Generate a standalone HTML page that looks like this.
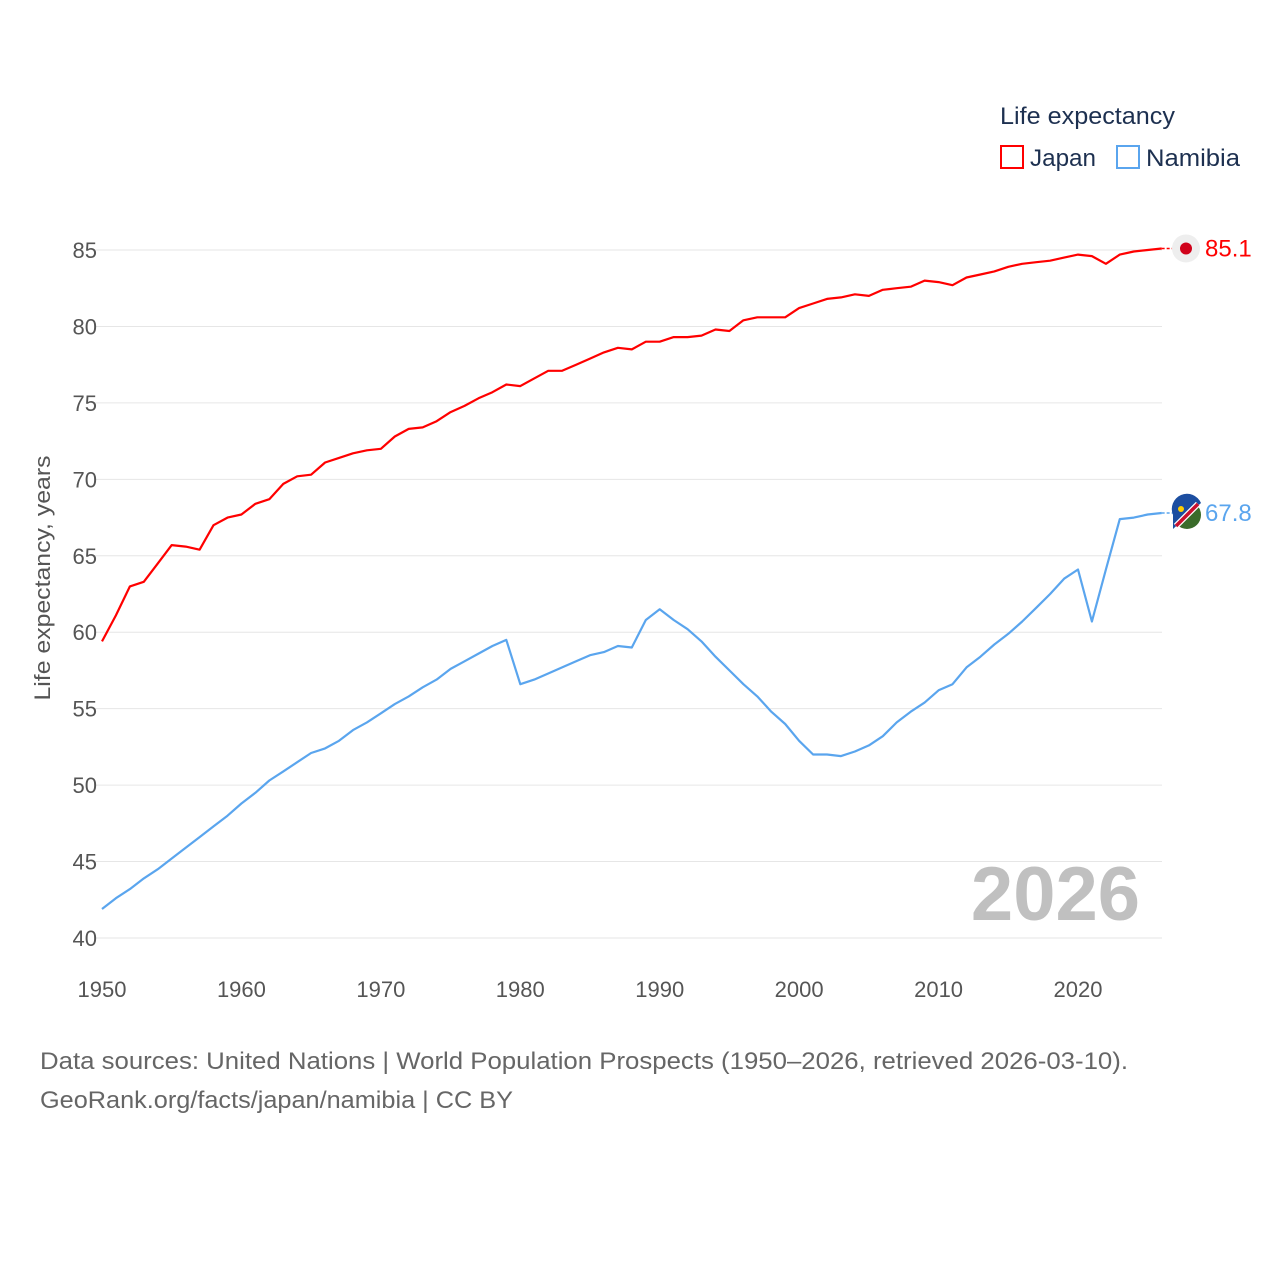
<!DOCTYPE html>
<html><head><meta charset="utf-8"><style>
body{margin:0;background:#fff;font-family:"Liberation Sans",sans-serif}
svg text{font-family:"Liberation Sans",sans-serif}
</style></head><body>
<svg id="chart" width="1280" height="1280">
<text x="1000" y="124" font-size="24" fill="#1d3050" textLength="175" lengthAdjust="spacingAndGlyphs">Life expectancy</text>
<g><rect x="1001" y="146" width="22" height="22" fill="none" stroke="#ff0000" stroke-width="2"/><text x="1030" y="166" font-size="24" fill="#1d3050" textLength="66" lengthAdjust="spacingAndGlyphs">Japan</text></g>
<g><rect x="1117" y="146" width="22" height="22" fill="none" stroke="#5aa5ee" stroke-width="2"/><text x="1146" y="166" font-size="24" fill="#1d3050" textLength="94" lengthAdjust="spacingAndGlyphs">Namibia</text></g>
<text transform="translate(50,578) rotate(-90)" text-anchor="middle" font-size="22" fill="#555" textLength="245" lengthAdjust="spacingAndGlyphs">Life expectancy, years</text>
<g id="grid"></g><g id="xt"></g>
<text x="1140" y="920" text-anchor="end" font-size="76" font-weight="bold" fill="#c0c0c0">2026</text>
<g id="lines"></g>
<text x="40" y="1069" font-size="24" fill="#666" textLength="1088" lengthAdjust="spacingAndGlyphs">Data sources: United Nations | World Population Prospects (1950–2026, retrieved 2026-03-10).</text>
<text x="40" y="1108" font-size="24" fill="#666" textLength="473" lengthAdjust="spacingAndGlyphs">GeoRank.org/facts/japan/namibia | CC BY</text>
</svg>
<script>
const years=[];for(let y=1950;y<=2026;y++)years.push(y);
const japan=[59.4,61.1,63.0,63.3,64.5,65.7,65.6,65.4,67.0,67.5,67.7,68.4,68.7,69.7,70.2,70.3,71.1,71.4,71.7,71.9,72.0,72.8,73.3,73.4,73.8,74.4,74.8,75.3,75.7,76.2,76.1,76.6,77.1,77.1,77.5,77.9,78.3,78.6,78.5,79.0,79.0,79.3,79.3,79.4,79.8,79.7,80.4,80.6,80.6,80.6,81.2,81.5,81.8,81.9,82.1,82.0,82.4,82.5,82.6,83.0,82.9,82.7,83.2,83.4,83.6,83.9,84.1,84.2,84.3,84.5,84.7,84.6,84.1,84.7,84.9,85.0,85.1];
const namibia=[41.9,42.6,43.2,43.9,44.5,45.2,45.9,46.6,47.3,48.0,48.8,49.5,50.3,50.9,51.5,52.1,52.4,52.9,53.6,54.1,54.7,55.3,55.8,56.4,56.9,57.6,58.1,58.6,59.1,59.5,56.6,56.9,57.3,57.7,58.1,58.5,58.7,59.1,59.0,60.8,61.5,60.8,60.2,59.4,58.4,57.5,56.6,55.8,54.8,54.0,52.9,52.0,52.0,51.9,52.2,52.6,53.2,54.1,54.8,55.4,56.2,56.6,57.7,58.4,59.2,59.9,60.7,61.6,62.5,63.5,64.1,60.7,64.1,67.4,67.5,67.7,67.8];
const yTicks=[40,45,50,55,60,65,70,75,80,85];
const xTicks=[1950,1960,1970,1980,1990,2000,2010,2020];
const NS="http://www.w3.org/2000/svg";
const X=y=>102+(y-1950)*976/70;
const Y=v=>938-(v-40)*688/45;
function mk(t,a,p){const e=document.createElementNS(NS,t);for(const k in a)e.setAttribute(k,a[k]);p.appendChild(e);return e;}
const grid=document.getElementById('grid');
yTicks.forEach(v=>{
 const l=mk('line',{x1:95,x2:1162,y1:Y(v),y2:Y(v),stroke:'#e6e6e6','stroke-width':1},grid);
 
 
 const t=mk('text',{x:97,y:Y(v)+8,'text-anchor':'end','font-size':22,fill:'#555'},grid);
 t.textContent=v;
 
 
});
const xt=document.getElementById('xt');
xTicks.forEach(v=>{
 const t=mk('text',{x:X(v),y:997,'text-anchor':'middle','font-size':22,fill:'#555'},xt);
 t.textContent=v;
 
 
});
const lines=document.getElementById('lines');
function series(data,color,name,flag){
 const d=data.map((v,i)=>(i?'L':'M')+X(years[i]).toFixed(1)+','+Y(v).toFixed(1)).join('');
 const p=mk('path',{d:d,fill:'none',stroke:color,'stroke-width':2.2,'stroke-linejoin':'round'},lines);
 
 
 const last=data[data.length-1],ly=Y(last),lx=X(years[years.length-1]);
 mk('line',{x1:lx,x2:1174,y1:ly,y2:ly,stroke:color,'stroke-width':1.5,'stroke-dasharray':'3,2'},lines);
 const g=mk('g',{},lines);
 
 
 if(flag==='jp'){mk('circle',{cx:1186,cy:ly,r:14,fill:'#eee'},g);mk('circle',{cx:1186,cy:ly,r:6,fill:'#d0021b'},g);}
 else{mk('circle',{cx:1187,cy:ly+2,r:14,fill:'#3a6b2a'},g);mk('path',{d:`M${1173},${ly+2}A14,14 0 0 1 ${1201},${ly-12+2} L1173,${ly+16}Z`,fill:'#1c4ea0'},g);mk('line',{x1:1176,y1:ly+13,x2:1198,y2:ly-9,stroke:'#fff','stroke-width':6},g);mk('line',{x1:1176,y1:ly+13,x2:1198,y2:ly-9,stroke:'#c8102e','stroke-width':3.5},g);mk('circle',{cx:1181,cy:ly-4,r:3,fill:'#ffce00'},g);}
 const t=mk('text',{x:1205,y:ly+8,'font-size':24,fill:color},lines);
 t.textContent=last.toFixed(1);
 
 
}
series(japan,'#ff0000','japan','jp');
series(namibia,'#5aa5ee','namibia','na');
</script>
</body></html>
